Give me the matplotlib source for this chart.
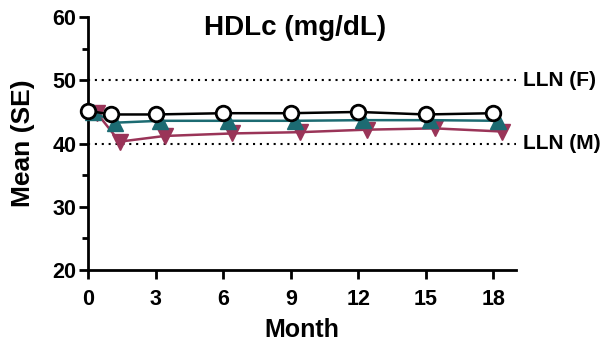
import matplotlib.pyplot as plt

plt.rcParams['font.family'] = ['Liberation Sans', 'DejaVu Sans']
plt.rcParams['font.weight'] = 'bold'

# data
months = [0, 1, 3, 6, 9, 12, 15, 18]
hdl_all = [45.2, 44.6, 44.6, 44.8, 44.8, 45.0, 44.6, 44.8]
hdl_teal = [45.0, 43.3, 43.6, 43.6, 43.6, 43.7, 43.7, 43.6]
hdl_mag = [44.8, 40.3, 41.2, 41.6, 41.8, 42.2, 42.4, 41.9]
teal_shift = 0.2
mag_shift = 0.4
lln_vals = [50, 40]
lln_labels = ["LLN (F)", "LLN (M)"]
xticks = [0, 3, 6, 9, 12, 15, 18]
yticks = [20, 30, 40, 50, 60]

fig = plt.figure(figsize=(6.04, 3.42), dpi=100)
ax = fig.add_axes([0.1457, 0.2105, 0.7086, 0.7395])

for val, lab in zip(lln_vals, lln_labels):
    ax.axhline(val, color='black', linestyle=(0, (1, 2.3)), linewidth=1.5, zorder=1)
    ax.text(19.29, val, lab, fontsize=15, fontweight='bold', va='center', ha='left')

ax.plot([m + mag_shift for m in months], hdl_mag, color='#9a3458', linewidth=1.8,
        marker='v', markersize=12, zorder=2, clip_on=False)
ax.plot([m + teal_shift for m in months], hdl_teal, color='#1c6b72', linewidth=1.8,
        marker='^', markersize=12, zorder=3, clip_on=False)
ax.plot(months, hdl_all, color='black', linewidth=1.8, marker='o', markersize=10.5,
        markerfacecolor='white', markeredgecolor='black', markeredgewidth=2,
        zorder=4, clip_on=False)

ax.set_xlim(0, 19)
ax.set_ylim(20, 60)
ax.set_xticks(xticks)
ax.set_yticks(yticks)
ax.set_yticks([25, 35, 45, 55], minor=True)
ax.tick_params(axis='x', which='major', labelsize=15.5, width=2, length=6.5, pad=7)
ax.tick_params(axis='y', which='major', labelsize=15.5, width=2, length=6.5, pad=2)
ax.tick_params(axis='y', which='minor', width=2, length=4.5)
for lbl in ax.get_xticklabels() + ax.get_yticklabels():
    lbl.set_fontweight('bold')

for s in ['top', 'right']:
    ax.spines[s].set_visible(False)
for s in ['left', 'bottom']:
    ax.spines[s].set_linewidth(2)

ax.set_xlabel("Month", fontsize=18, fontweight='bold', labelpad=6)
ax.set_ylabel("Mean (SE)", fontsize=19, fontweight='bold')
ax.yaxis.set_label_coords(-0.125, 0.5)
fig.text(0.489, 0.898, "HDLc (mg/dL)", fontsize=20, fontweight='bold',
         ha='center', va='baseline')

fig.savefig("out.png", dpi=100)
